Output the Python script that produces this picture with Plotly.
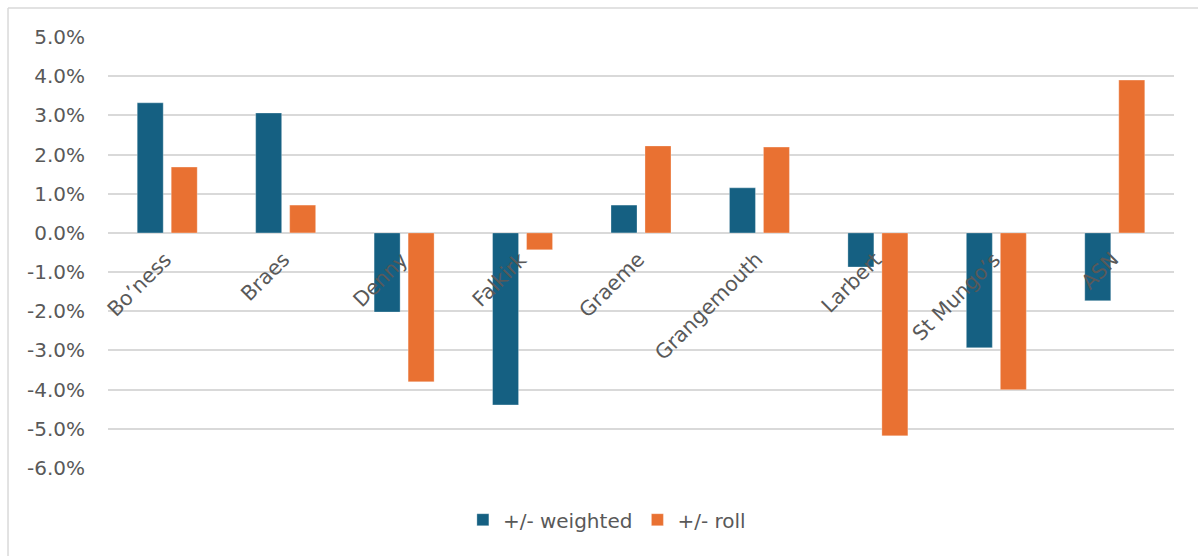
import plotly.graph_objects as go

categories = ["Bo’ness", "Braes", "Denny", "Falkirk", "Graeme", "Grangemouth", "Larbert", "St Mungo’s", "ASN"]
weighted = [0.0332, 0.0306, -0.0202, -0.0439, 0.0071, 0.0115, -0.0087, -0.0293, -0.0173]
roll = [0.0168, 0.0071, -0.0380, -0.0043, 0.0222, 0.0219, -0.0518, -0.0400, 0.0390]
tick_vals = [0.05, 0.04, 0.03, 0.02, 0.01, 0.0, -0.01, -0.02, -0.03, -0.04, -0.05, -0.06]
tick_text = ["5.0%", "4.0%", "3.0%", "2.0%", "1.0%", "0.0%", "-1.0%", "-2.0%", "-3.0%", "-4.0%", "-5.0%", "-6.0%"]

FONT = "DejaVu Sans"
GRAY = "#595959"
GRID = "#d9d9d9"
FS = 20

fig = go.Figure()
fig.add_trace(go.Bar(x=categories, y=weighted, name="+/- weighted",
                     marker=dict(color="#156082", line=dict(color="rgba(255,255,255,0.5)", width=0.6))))
fig.add_trace(go.Bar(x=categories, y=roll, name="+/- roll",
                     marker=dict(color="#E97132", line=dict(color="rgba(255,255,255,0.5)", width=0.6))))

annotations = []
for c in categories:
    annotations.append(dict(x=c, y=0, xref="x", yref="y", text=c, showarrow=False,
                            textangle=-45, xanchor="right", yanchor="top",
                            xshift=11, yshift=-12,
                            font=dict(family=FONT, size=20.5, color=GRAY)))

fig.update_layout(
    width=1198, height=556,
    margin=dict(l=108, r=24, t=37, b=88),
    paper_bgcolor="white", plot_bgcolor="white",
    barmode="group", bargap=0.426, bargroupgap=0.235,
    font=dict(family=FONT, size=FS, color=GRAY),
    showlegend=True,
    legend=dict(orientation="h", x=0.468, xanchor="center", y=-0.12, yanchor="middle",
                font=dict(family=FONT, size=FS, color=GRAY), itemwidth=30,
                traceorder="normal"),
    annotations=annotations,
    shapes=[
        dict(type="line", xref="paper", yref="paper", x0=-0.0938, x1=1.1, y0=1.0673, y1=1.0673,
             line=dict(color=GRID, width=1.5)),
        dict(type="line", xref="paper", yref="paper", x0=-0.0938, x1=-0.0938, y0=1.0673, y1=-0.3,
             line=dict(color=GRID, width=1.5)),
    ],
)
fig.update_xaxes(range=[-0.5, len(categories) - 0.5], showticklabels=False, showgrid=False,
                 zeroline=False, showline=False, ticks="", automargin=False)
fig.update_yaxes(range=[-0.06, 0.05], tickvals=tick_vals, ticktext=tick_text,
                 showgrid=True, gridcolor=GRID, gridwidth=1.5,
                 zeroline=True, zerolinecolor=GRID, zerolinewidth=1.5,
                 showline=False, ticks="", ticklabelstandoff=22, automargin=False,
                 tickfont=dict(family=FONT, size=FS, color=GRAY))

fig.write_html("out.html")
